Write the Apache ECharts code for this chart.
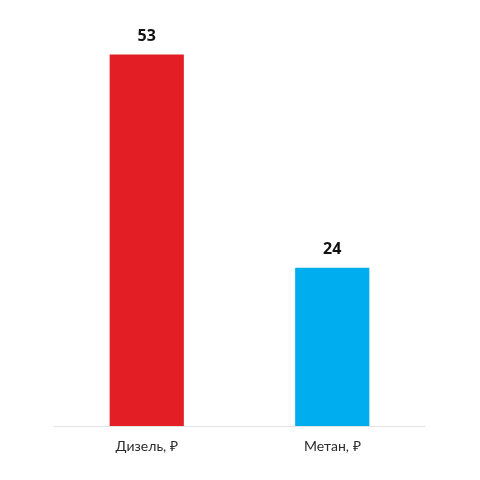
<!DOCTYPE html>
<html>
<head>
<meta charset="utf-8">
<script src="https://cdn.jsdelivr.net/npm/echarts@6/dist/echarts.min.js"></script>
<style>html,body{margin:0;padding:0;background:#fff}#c{width:480px;height:480px}</style>
</head>
<body>
<div id="c"></div>
<script>
const categories = ['Дизель, ₽', 'Метан, ₽'];
const values = [53, 24];
const barColors = ['#E31E24', '#00AEEF'];

const chart = echarts.init(document.getElementById('c'), null, {renderer: 'canvas'});
chart.setOption({
  animation: false,
  backgroundColor: '#ffffff',
  grid: {left: 54, right: 55, top: 3, bottom: 54},
  xAxis: {
    type: 'category',
    data: categories,
    axisLine: {lineStyle: {color: '#e3e3e3', width: 1}},
    axisTick: {show: false},
    axisLabel: {color: '#2a2a2a', fontSize: 14, fontFamily: 'Lato', margin: 13}
  },
  yAxis: {
    type: 'value',
    min: 2.5,
    max: 60,
    show: false,
    splitLine: {show: false}
  },
  series: [{
    type: 'bar',
    barWidth: '40%',
    data: values.map((v, i) => ({value: v, itemStyle: {color: barColors[i]}})),
    label: {
      show: true,
      position: 'top',
      distance: 10,
      color: '#111111',
      fontSize: 16,
      fontWeight: 'bold',
      fontFamily: 'Open Sans'
    }
  }]
});
</script>
</body>
</html>
